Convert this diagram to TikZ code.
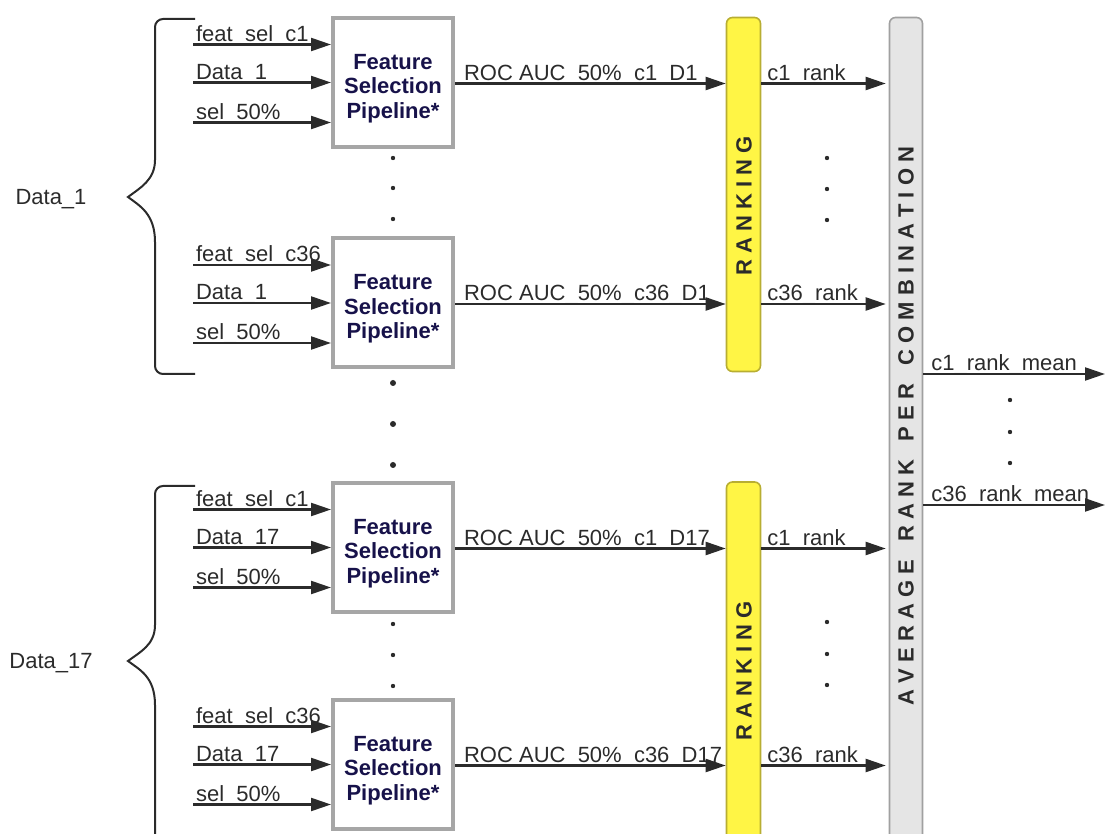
\documentclass[tikz,border=0pt]{standalone}
\usepackage{fontspec}
\setmainfont{Liberation Sans}
\usepackage{xcolor}
\usetikzlibrary{arrows.meta,positioning,calc}
\definecolor{Ink}{HTML}{2B2B2B}
\definecolor{Navy}{HTML}{17124A}
\definecolor{Frame}{HTML}{A6A6A6}
\definecolor{Lemon}{HTML}{FFF545}
\definecolor{Olive}{HTML}{B8AE32}
\definecolor{Mist}{HTML}{E5E5E5}
\definecolor{Steel}{HTML}{A0A0A0}
\tikzset{
  fsp/.style={draw=Frame, line width=2pt, fill=white, minimum width=60pt, minimum height=64.5pt,
    inner sep=0pt},
  fsptext/.style={align=center, inner sep=0pt, text=Navy, font=\fontsize{11}{12.3}\selectfont\bfseries},
  flow/.style={draw=Ink, line width=1.1pt, -{Triangle[length=10pt,width=6.5pt]}},
  lbl/.style={anchor=base west, inner sep=0pt, text=Ink, font=\fontsize{11}{12}\selectfont,
    xshift=2.5pt, yshift=1.6pt},
  bar/.style={minimum width=17pt, line width=0.8pt, rounded corners=3pt, inner sep=0pt},
  bartext/.style={rotate=90, inner sep=0pt, text=Ink, font=\fontsize{11}{12}\selectfont\bfseries},
  side/.style={text=Ink, font=\fontsize{11}{12}\selectfont},
  brace/.style={draw=Ink, line width=1pt}
}
% one feature selection block with its inputs and outputs
\newcommand{\pipeline}[7]{
  \begin{scope}[shift={(0,#2)}]
    \node[fsp] (#1) at (393,0) {};
    \node[fsptext] (#1-t) at (393,6) {Feature\\Selection\\Pipeline*};
    \coordinate (#1-f) at (193,-38);
    \coordinate (#1-d) at (193,0);
    \coordinate (#1-s) at (193,40);
    \coordinate (#1-o) at (457,1);
  \end{scope}
  \draw[flow] (#1-f) -- (#1-f -| #1.west) node[lbl, pos=0, xshift=-1.5pt] {#3};
  \draw[flow] (#1-d) -- (#1-d -| #1.west) node[lbl, pos=0, xshift=-1.5pt] {#4};
  \draw[flow] (#1-s) -- (#1-s -| #1.west) node[lbl, pos=0, xshift=-1.5pt] {sel\_50\%};
  \draw[flow] (#1.east |- #1-o) -- (#6.west |- #1-o) node[lbl, pos=0, xshift=1.5pt] {#5};
  \draw[flow, shorten >=1.5pt] (#6.east |- #1-o) -- (avg.west |- #1-o) node[lbl, pos=0] {#7};
}
\newcommand{\dotcol}[5]{
  \foreach \yy in {#2,#3,#4} {\fill[Ink] (#1,\yy) circle (#5);}
}

\begin{document}
\begin{tikzpicture}[x=0.5pt, y=-0.5pt]
  \path[use as bounding box, clip] (0,0) rectangle (1105,834);

  % bars
  \node[bar, draw=Olive, fill=Lemon, minimum height=177pt] (rank1) at (743.5,194.5) {};
  \node[bar, draw=Olive, fill=Lemon, minimum height=184pt] (rank2) at (743.5,666) {};
  \node[bar, draw=Steel, fill=Mist, minimum width=16.5pt, minimum height=416pt] (avg) at (906,433.5) {};
  \node[bartext] (rank1txt) at (744,206) {R~A~N~K~I~N~G};
  \node[bartext] (rank2txt) at (744,671) {R~A~N~K~I~N~G};
  \node[bartext] (avgtxt) at (906,426)
    {A~V~E~R~A~G~E~~~R~A~N~K~~~P~E~R~~~C~O~M~B~I~N~A~T~I~O~N};

  % blocks
  \pipeline{fsp1}{82.5}{feat\_sel\_c1}{Data\_1}{ROC AUC\_50\%\_c1\_D1}{rank1}{c1\_rank}
  \pipeline{fsp2}{303}{feat\_sel\_c36}{Data\_1}{ROC AUC\_50\%\_c36\_D1}{rank1}{c36\_rank}
  \pipeline{fsp3}{547.5}{feat\_sel\_c1}{Data\_17}{ROC AUC\_50\%\_c1\_D17}{rank2}{c1\_rank}
  \pipeline{fsp4}{764.5}{feat\_sel\_c36}{Data\_17}{ROC AUC\_50\%\_c36\_D17}{rank2}{c36\_rank}

  % means
  \coordinate (out1) at (1105,374);
  \coordinate (out2) at (1105,505);
  \draw[flow] (avg.east |- out1) -- (out1) node[lbl, pos=0, xshift=1pt] {c1\_rank\_mean};
  \draw[flow] (avg.east |- out2) -- (out2) node[lbl, pos=0, xshift=1pt] {c36\_rank\_mean};

  % braces
  \draw[brace] (195,19) [rounded corners=4pt] -- (155,19) -- (155,152) [sharp corners]
    .. controls (155,180) and (140,188) .. (128,197)
    .. controls (140,206) and (155,214) .. (155,242) [rounded corners=4pt] -- (155,374) -- (195,374);
  \draw[brace] (195,486) [rounded corners=4pt] -- (155,486) -- (155,617) [sharp corners]
    .. controls (155,645) and (140,652) .. (128,661)
    .. controls (140,670) and (155,677) .. (155,705) -- (155,850);
  \node[side] (data1) at (51,199) {Data\_1};
  \node[side] (data17) at (51,663) {Data\_17};

  % dots
  \dotcol{393}{158}{188}{219}{1.1pt}
  \dotcol{393}{383}{424}{465}{1.5pt}
  \dotcol{393}{624}{655}{686}{1.1pt}
  \dotcol{827}{158}{189}{220}{1.1pt}
  \dotcol{827}{622}{654}{685}{1.1pt}
  \dotcol{1010}{400}{432}{463}{1.1pt}
\end{tikzpicture}
\end{document}
